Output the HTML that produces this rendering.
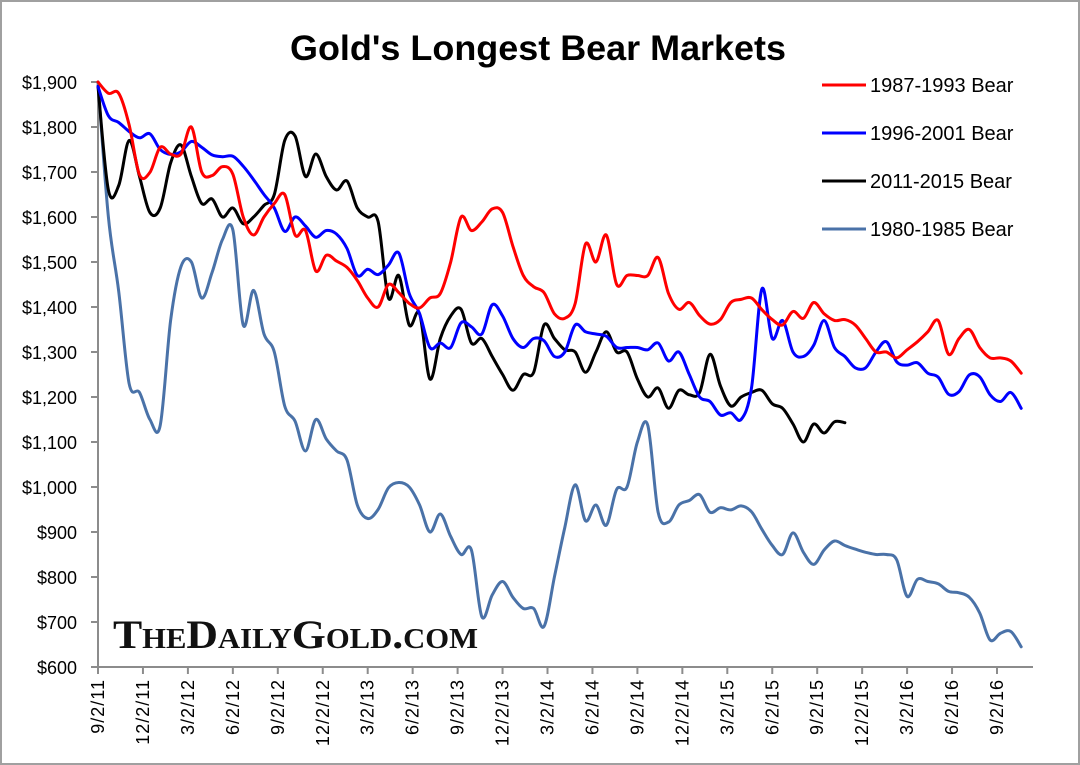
<!DOCTYPE html>
<html><head><meta charset="utf-8"><style>
body{margin:0;background:#fff;}
svg{display:block;font-family:"Liberation Sans",Arial,sans-serif;}
</style></head><body>
<svg id="chart" width="1080" height="765" viewBox="0 0 1080 765" xmlns="http://www.w3.org/2000/svg">
<rect x="1" y="1" width="1078" height="763" fill="#fff" stroke="#a0a0a0" stroke-width="2"/>
<text x="538" y="60" text-anchor="middle" font-size="35" font-weight="bold" textLength="496" lengthAdjust="spacingAndGlyphs">Gold's Longest Bear Markets</text>
<g id="yaxis"></g>
<g id="xaxis"></g>
<g id="series"></g>
<g id="legend"></g>
<text x="113" y="648" font-family="Liberation Serif,serif" font-size="40" font-weight="bold" fill="#111" style="font-variant:small-caps" textLength="365" lengthAdjust="spacingAndGlyphs">TheDailyGold.com</text>
</svg>
<script>
const yTicks=[600,700,800,900,1000,1100,1200,1300,1400,1500,1600,1700,1800,1900];
const xTickLabels=["9/2/11","12/2/11","3/2/12","6/2/12","9/2/12","12/2/12","3/2/13","6/2/13","9/2/13","12/2/13","3/2/14","6/2/14","9/2/14","12/2/14","3/2/15","6/2/15","9/2/15","12/2/15","3/2/16","6/2/16","9/2/16"];
const seriesNames=["1987-1993 Bear","1996-2001 Bear","2011-2015 Bear","1980-1985 Bear"];
const seriesColors=["#ff0000","#0000ff","#000000","#4a72a8"];
const bear1987=[1900,1875,1875,1805,1694,1699,1755,1740,1740,1800,1700,1692,1712,1695,1600,1560,1600,1630,1650,1560,1570,1480,1515,1502,1488,1459,1420,1400,1450,1432,1408,1398,1420,1430,1500,1600,1570,1589,1618,1610,1535,1470,1445,1432,1385,1375,1408,1540,1500,1560,1450,1470,1470,1470,1510,1430,1395,1410,1381,1362,1372,1410,1417,1420,1394,1372,1360,1390,1375,1410,1385,1370,1372,1360,1330,1300,1300,1287,1305,1323,1345,1370,1295,1330,1350,1310,1287,1287,1280,1253];
const bear1996=[1890,1825,1810,1790,1776,1785,1750,1739,1745,1768,1755,1738,1734,1735,1713,1683,1650,1620,1568,1600,1580,1555,1570,1562,1530,1470,1484,1472,1493,1520,1430,1385,1310,1320,1310,1365,1356,1340,1405,1380,1330,1310,1330,1325,1290,1300,1360,1345,1340,1335,1310,1310,1310,1305,1320,1280,1300,1250,1200,1190,1160,1165,1150,1220,1440,1330,1370,1300,1290,1315,1370,1310,1290,1265,1265,1300,1323,1278,1271,1276,1253,1244,1206,1212,1249,1245,1205,1190,1210,1175];
const bear2011=[1890,1660,1670,1770,1690,1610,1620,1720,1760,1690,1630,1640,1600,1620,1585,1600,1626,1650,1770,1780,1690,1740,1690,1660,1680,1620,1600,1590,1420,1470,1360,1385,1240,1330,1380,1395,1320,1330,1290,1250,1215,1250,1255,1360,1330,1305,1300,1255,1300,1345,1300,1300,1240,1200,1220,1175,1215,1205,1210,1295,1225,1180,1200,1210,1215,1185,1175,1140,1100,1140,1120,1145,1143];
const bear1980=[1900,1600,1435,1230,1210,1150,1137,1370,1490,1500,1420,1477,1550,1571,1360,1437,1340,1300,1180,1146,1080,1150,1107,1080,1060,960,930,950,998,1010,1000,960,900,940,890,850,860,712,760,790,755,730,730,690,800,910,1005,925,960,915,995,1000,1100,1137,944,922,960,970,983,944,954,949,958,945,906,870,850,898,855,828,860,880,870,862,855,850,850,838,757,795,790,785,768,765,755,720,660,675,679,645];
const seriesData=[bear1987,bear1996,bear2011,bear1980];

const NS="http://www.w3.org/2000/svg";
const X0=98, TICKW=44.95, WEEKS_PER_TICK=13, STEP_WEEKS=3;
function xScale(i){return X0+i*STEP_WEEKS*TICKW/WEEKS_PER_TICK;}
function xTick(k){return X0+k*TICKW;}
function yScale(v){return 82+(1900-v)*0.45;}
function mk(tag,attrs,parent){const e=document.createElementNS(NS,tag);for(const k in attrs)e.setAttribute(k,attrs[k]);parent.appendChild(e);return e;}
function smoothPath(pts){
  let d='M'+pts[0][0].toFixed(1)+','+pts[0][1].toFixed(1);
  for(let i=0;i<pts.length-1;i++){
    const p0=pts[i-1]||pts[i],p1=pts[i],p2=pts[i+1],p3=pts[i+2]||p2;
    const c1x=p1[0]+(p2[0]-p0[0])/6,c1y=p1[1]+(p2[1]-p0[1])/6;
    const c2x=p2[0]-(p3[0]-p1[0])/6,c2y=p2[1]-(p3[1]-p1[1])/6;
    d+=` C${c1x.toFixed(1)},${c1y.toFixed(1)} ${c2x.toFixed(1)},${c2y.toFixed(1)} ${p2[0].toFixed(1)},${p2[1].toFixed(1)}`;
  }
  return d;
}

const ya=document.getElementById('yaxis');
const yl=mk('line',{x1:X0,x2:X0,y1:yScale(1900),y2:yScale(600),stroke:'#8c8c8c','stroke-width':2},ya);


yTicks.forEach(v=>{
  const t=mk('line',{x1:X0-7,x2:X0,y1:yScale(v),y2:yScale(v),stroke:'#8c8c8c','stroke-width':2},ya);
  
  
  const tx=mk('text',{x:77,y:yScale(v)+7,'text-anchor':'end','font-size':18,fill:'#000'},ya);
  tx.textContent='$'+v.toLocaleString('en-US');
  
  
});
const xa=document.getElementById('xaxis');
const xl=mk('line',{x1:X0,x2:1033,y1:yScale(600),y2:yScale(600),stroke:'#8c8c8c','stroke-width':2},xa);


xTickLabels.forEach((lab,k)=>{
  const x=xTick(k);
  const t=mk('line',{x1:x,x2:x,y1:yScale(600),y2:yScale(600)+7,stroke:'#8c8c8c','stroke-width':2},xa);
  
  
  const tx=mk('text',{x:0,y:0,'text-anchor':'end','font-size':18,'letter-spacing':1,transform:`translate(${x+6},${yScale(600)+12}) rotate(-90)`},xa);
  tx.textContent=lab;
  
  
});
const sg=document.getElementById('series');
const drawOrder=[3,2,1,0];
drawOrder.forEach(s=>{
  const pts=seriesData[s].map((v,i)=>[xScale(i),yScale(v)]);
  const p=mk('path',{d:smoothPath(pts),fill:'none',stroke:seriesColors[s],'stroke-width':3,'stroke-linejoin':'round','stroke-linecap':'round'},sg);
  
  
});
const lg=document.getElementById('legend');
seriesNames.forEach((n,s)=>{
  const y=85+s*48;
  const l=mk('line',{x1:822,x2:866,y1:y,y2:y,stroke:seriesColors[s],'stroke-width':3},lg);
  
  
  const t=mk('text',{x:870,y:y+7,'font-size':20},lg);
  t.textContent=n;
  
  
});
</script>
</body></html>
